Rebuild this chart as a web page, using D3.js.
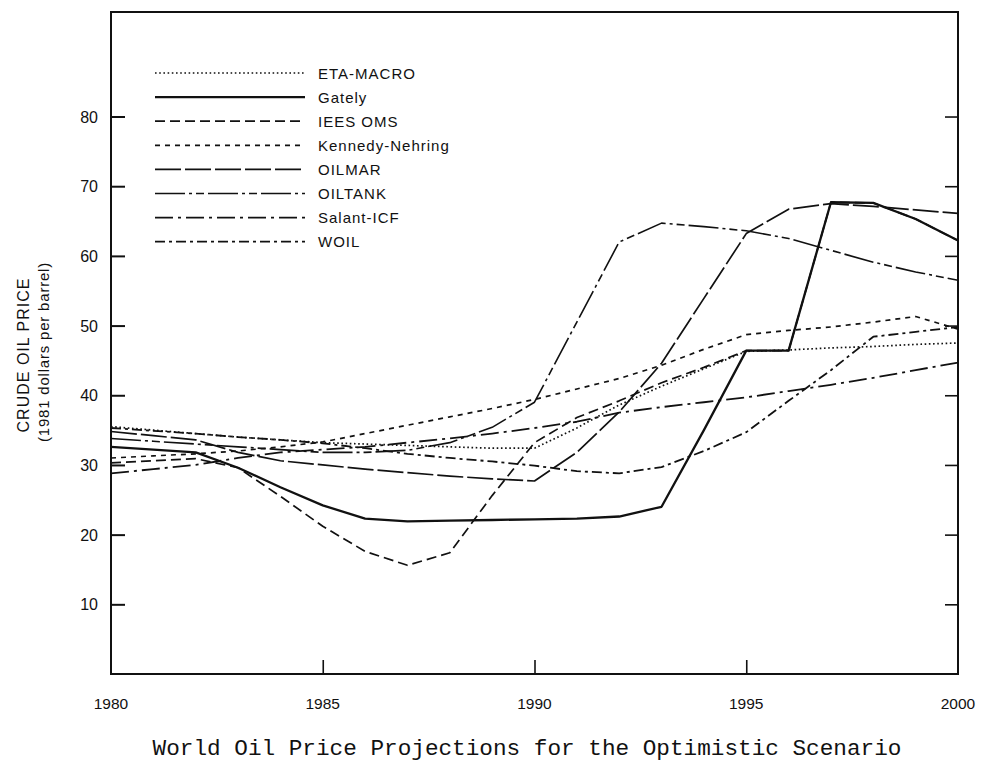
<!DOCTYPE html>
<html>
<head>
<meta charset="utf-8">
<script src="https://cdn.jsdelivr.net/npm/d3@7"></script>
<style>
  html, body { margin: 0; padding: 0; background: #fff; }
  svg { display: block; }
  text { fill: #111; }
</style>
</head>
<body>
<svg id="chart" width="981" height="766"></svg>
<script>
// Years on the horizontal axis
const years = d3.range(1980, 2001);

// Projected crude oil price, 1981 dollars per barrel, one value per year
const etaMacro = [35.5, 35.0, 34.5, 34.0, 33.6, 33.2, 33.0, 32.8, 32.6, 32.4, 32.4,
                  35.3, 38.6, 41.3, 43.8, 46.3, 46.5, 46.8, 47.0, 47.3, 47.5];
const gately   = [32.6, 32.2, 31.8, 29.6, 26.8, 24.2, 22.3, 21.9, 22.0, 22.1, 22.2,
                  22.3, 22.6, 24.0, 35.0, 46.4, 46.4, 67.7, 67.6, 65.3, 62.2];
const ieesOms  = [30.3, 30.6, 30.9, 29.6, 25.5, 21.2, 17.6, 15.6, 17.4, 25.6, 33.2,
                  36.8, 39.2, 41.8, 44.0, 46.4, 46.4, 67.7, 67.6, 65.3, 62.2];
const kennedy  = [31.0, 31.3, 31.6, 32.0, 32.6, 33.3, 34.5, 35.7, 36.9, 38.1, 39.4,
                  40.9, 42.4, 44.3, 46.6, 48.7, 49.3, 49.8, 50.5, 51.3, 49.5];
const oilmar   = [34.8, 34.2, 33.6, 31.8, 30.6, 30.0, 29.4, 28.9, 28.4, 28.0, 27.7,
                  31.8, 37.6, 44.6, 53.9, 63.2, 66.7, 67.5, 67.1, 66.6, 66.1];
const oiltank  = [33.8, 33.4, 33.0, 32.6, 32.2, 31.8, 31.8, 32.1, 33.2, 35.4, 39.0,
                  50.5, 62.0, 64.7, 64.2, 63.6, 62.5, 60.8, 59.1, 57.7, 56.5];
const salant   = [28.8, 29.4, 30.0, 31.0, 31.8, 32.2, 32.6, 33.2, 33.8, 34.5, 35.3,
                  36.2, 37.5, 38.3, 39.0, 39.7, 40.6, 41.5, 42.5, 43.6, 44.7];
const woil     = [35.3, 34.9, 34.5, 34.0, 33.6, 33.1, 32.4, 31.6, 31.0, 30.5, 29.9,
                  29.1, 28.8, 29.7, 32.0, 34.7, 39.2, 43.6, 48.4, 49.1, 49.8];

const seriesNames = ["ETA-MACRO", "Gately", "IEES OMS", "Kennedy-Nehring",
                     "OILMAR", "OILTANK", "Salant-ICF", "WOIL"];
const seriesValues = [etaMacro, gately, ieesOms, kennedy, oilmar, oiltank, salant, woil];

const yTicks = [10, 20, 30, 40, 50, 60, 70, 80];
const xTicks = [1980, 1985, 1990, 1995, 2000];

const yTitle = "CRUDE OIL PRICE";
const yUnits = "(1981 dollars per barrel)";
const caption = "World Oil Price Projections for the Optimistic Scenario";

// Line appearance per model (dash pattern, width)
const styles = {
  "ETA-MACRO":       { dash: "1.6,2.6", width: 1.7 },
  "Gately":          { dash: null,      width: 2.3 },
  "IEES OMS":        { dash: "10,5",    width: 1.7 },
  "Kennedy-Nehring": { dash: "5,5",     width: 1.7 },
  "OILMAR":          { dash: "26,4",    width: 1.7 },
  "OILTANK":         { dash: "30,4,3,4,8,4", width: 1.6 },
  "Salant-ICF":      { dash: "18,5,3,5", width: 1.8 },
  "WOIL":            { dash: "10,4,3,4", width: 1.8 }
};

const svg = d3.select("#chart");
const plotLeft = 111, plotRight = 958, plotTop = 12, plotBottom = 674;

const x = d3.scaleLinear().domain([1980, 2000]).range([plotLeft, plotRight]);
const y = d3.scaleLinear().domain([0, 95]).range([plotBottom, plotTop]);

// Frame
svg.append("rect")
  .attr("x", plotLeft).attr("y", plotTop)
  .attr("width", plotRight - plotLeft).attr("height", plotBottom - plotTop)
  .attr("fill", "none").attr("stroke", "#111").attr("stroke-width", 2);

// Left axis: ticks point inward
const yAxisL = svg.append("g").attr("transform", `translate(${plotLeft},0)`)
  .call(d3.axisRight(y).tickValues(yTicks).tickSize(14).tickFormat(""));
yAxisL.select(".domain").remove();
yAxisL.selectAll("line").attr("stroke", "#111").attr("stroke-width", 2);

svg.append("g").selectAll("text").data(yTicks).join("text")
  .attr("x", plotLeft - 13).attr("y", d => y(d) + 6)
  .attr("text-anchor", "end")
  .attr("font-family", "Liberation Sans, Arial, sans-serif")
  .attr("font-size", 16)
  .text(d => d);

// Right axis: ticks point inward
const yAxisR = svg.append("g").attr("transform", `translate(${plotRight},0)`)
  .call(d3.axisLeft(y).tickValues(yTicks).tickSize(13).tickFormat(""));
yAxisR.select(".domain").remove();
yAxisR.selectAll("line").attr("stroke", "#111").attr("stroke-width", 1.6);

// Bottom axis: inner ticks at the mid years
const xAxis = svg.append("g").attr("transform", `translate(0,${plotBottom})`)
  .call(d3.axisTop(x).tickValues(xTicks.slice(1, -1)).tickSize(14).tickFormat(""));
xAxis.select(".domain").remove();
xAxis.selectAll("line").attr("stroke", "#111").attr("stroke-width", 1.6);

svg.append("g").selectAll("text").data(xTicks).join("text")
  .attr("x", d => x(d)).attr("y", 709)
  .attr("text-anchor", "middle")
  .attr("font-family", "Liberation Sans, Arial, sans-serif")
  .attr("font-size", 15.5)
  .text(d => d);

// Axis title, two rotated lines
svg.append("text")
  .attr("transform", "translate(29,355) rotate(-90)")
  .attr("text-anchor", "middle")
  .attr("font-family", "Liberation Sans, Arial, sans-serif")
  .attr("font-size", 16)
  .attr("letter-spacing", 1)
  .text(yTitle);
svg.append("text")
  .attr("transform", "translate(49,352) rotate(-90)")
  .attr("text-anchor", "middle")
  .attr("font-family", "Liberation Sans, Arial, sans-serif")
  .attr("font-size", 15)
  .attr("letter-spacing", 0.8)
  .text(yUnits);

// Series lines
const line = d3.line()
  .x((d, i) => x(years[i]))
  .y(d => y(d));

svg.append("g").selectAll("path").data(seriesNames).join("path")
  .attr("d", (name, i) => line(seriesValues[i]))
  .attr("fill", "none")
  .attr("stroke", "#111")
  .attr("stroke-width", name => styles[name].width)
  .attr("stroke-dasharray", name => styles[name].dash)
  .attr("stroke-linejoin", "round");

// Legend
const legend = svg.append("g").attr("transform", "translate(155,73)");
const rowH = 24.1;
const rows = legend.selectAll("g").data(seriesNames).join("g")
  .attr("transform", (d, i) => `translate(0,${i * rowH})`);
rows.append("line")
  .attr("x1", 0).attr("x2", 150).attr("y1", 0).attr("y2", 0)
  .attr("stroke", "#111")
  .attr("stroke-width", d => styles[d].width)
  .attr("stroke-dasharray", d => styles[d].dash);
rows.append("text")
  .attr("x", 163).attr("y", 5.5)
  .attr("font-family", "Liberation Sans, Arial, sans-serif")
  .attr("font-size", 15)
  .attr("letter-spacing", 1)
  .text(d => d);

// Caption
svg.append("text")
  .attr("x", 527).attr("y", 755)
  .attr("text-anchor", "middle")
  .attr("font-family", "Liberation Mono, Courier New, monospace")
  .attr("font-size", 22.7)
  .text(caption);
</script>
</body>
</html>
